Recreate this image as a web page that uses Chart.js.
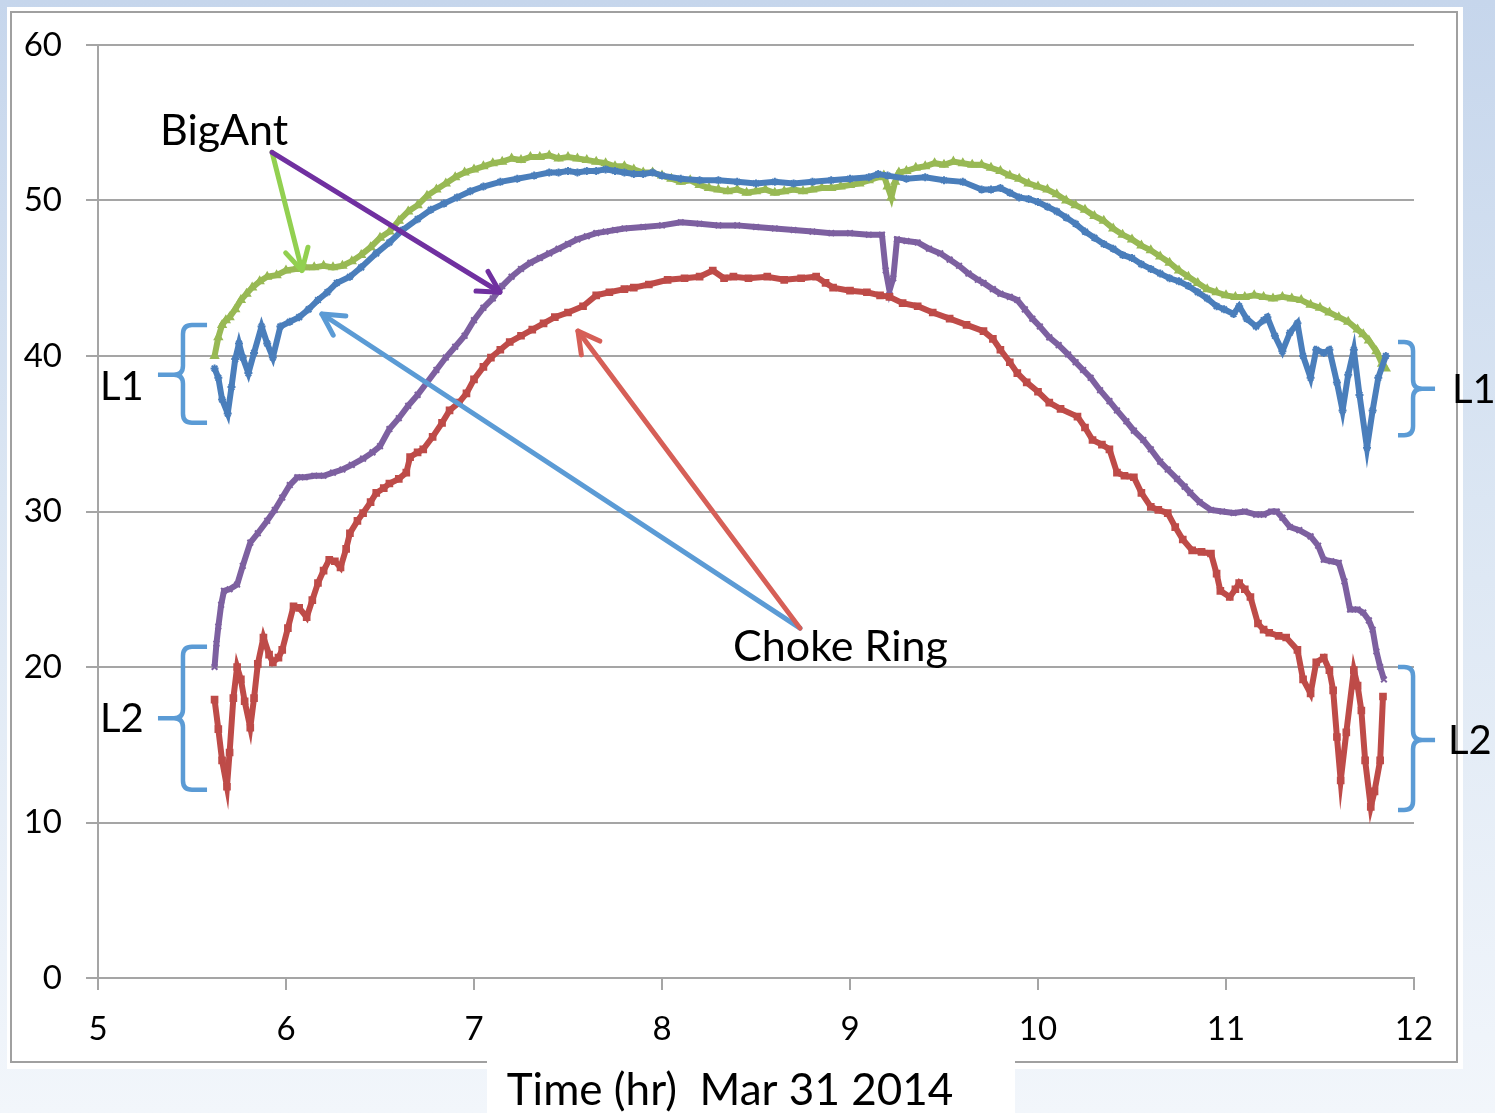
<!DOCTYPE html>
<html>
<head>
<meta charset="utf-8">
<script src="https://cdn.jsdelivr.net/npm/chart.js@4.4.1/dist/chart.umd.min.js"></script>
<style>
  html, body { margin: 0; padding: 0; background: #dde7f4; }
  canvas { display: block; }
</style>
</head>
<body>
<canvas id="snrChart" width="1495" height="1113"></canvas>
<script>
// SNR (dB-Hz) per antenna and frequency, Mar 31 2014
var xTicks = [5, 6, 7, 8, 9, 10, 11, 12];
var yTicks = [0, 10, 20, 30, 40, 50, 60];

var hoursChokeL1 = [5.62,5.64,5.66,5.69,5.71,5.73,5.75,5.77,5.80,5.83,5.87,5.90,5.93,5.97,6.02,6.07,6.12,6.17,6.22,6.27,6.34,6.40,6.48,6.55,6.62,6.70,6.77,6.84,6.91,6.98,7.05,7.14,7.23,7.32,7.40,7.45,7.50,7.55,7.60,7.65,7.70,7.75,7.80,7.85,7.90,7.95,8.00,8.10,8.20,8.30,8.40,8.50,8.60,8.70,8.80,8.90,9.00,9.10,9.15,9.20,9.30,9.40,9.50,9.60,9.70,9.75,9.80,9.85,9.90,9.95,10.00,10.05,10.10,10.15,10.20,10.25,10.30,10.35,10.40,10.45,10.50,10.55,10.60,10.65,10.70,10.75,10.80,10.85,10.90,10.95,10.99,11.04,11.07,11.11,11.16,11.20,11.22,11.26,11.30,11.34,11.38,11.41,11.45,11.48,11.52,11.55,11.59,11.62,11.65,11.68,11.71,11.75,11.78,11.81,11.85];
var chokeL1 = [39.2,38.6,37.2,36.3,38.0,39.8,40.8,39.9,38.9,40.2,41.9,40.8,39.9,41.9,42.2,42.5,43.0,43.6,44.1,44.7,45.1,45.7,46.6,47.3,48.1,48.8,49.4,49.8,50.2,50.6,50.9,51.2,51.4,51.6,51.8,51.8,51.9,51.8,51.9,51.9,52.0,51.9,51.8,51.7,51.7,51.8,51.6,51.4,51.3,51.3,51.2,51.1,51.2,51.1,51.2,51.3,51.4,51.5,51.7,51.6,51.4,51.5,51.3,51.2,50.7,50.7,50.8,50.5,50.2,50.1,49.9,49.6,49.3,48.9,48.5,48.0,47.6,47.2,46.9,46.5,46.3,45.9,45.6,45.3,45.0,44.8,44.5,44.1,43.7,43.2,43.0,42.7,43.2,42.4,41.9,42.3,42.5,41.3,40.3,41.5,42.1,40.0,38.6,40.4,40.2,40.4,38.3,36.5,38.8,40.4,37.5,34.1,36.5,38.6,40.0];

var hoursChokeL2 = [5.62,5.64,5.66,5.686,5.70,5.72,5.74,5.76,5.78,5.81,5.83,5.85,5.88,5.91,5.93,5.96,5.98,6.01,6.04,6.07,6.11,6.14,6.17,6.20,6.23,6.26,6.29,6.32,6.34,6.38,6.41,6.45,6.48,6.52,6.55,6.60,6.64,6.66,6.70,6.73,6.78,6.83,6.87,6.92,6.96,7.00,7.05,7.09,7.14,7.19,7.25,7.31,7.37,7.43,7.50,7.58,7.65,7.72,7.80,7.85,7.93,8.03,8.12,8.20,8.27,8.33,8.38,8.46,8.56,8.65,8.74,8.82,8.87,8.91,9.00,9.09,9.16,9.21,9.28,9.36,9.44,9.53,9.62,9.71,9.76,9.80,9.85,9.89,9.94,10.00,10.06,10.12,10.21,10.25,10.29,10.34,10.38,10.42,10.46,10.51,10.55,10.60,10.64,10.69,10.73,10.77,10.82,10.87,10.92,10.95,10.97,11.02,11.05,11.07,11.10,11.13,11.17,11.20,11.23,11.28,11.32,11.38,11.41,11.45,11.48,11.52,11.55,11.57,11.59,11.61,11.64,11.68,11.70,11.72,11.74,11.77,11.79,11.82,11.835];
var chokeL2 = [17.9,16.0,14.0,12.3,14.5,18.0,20.0,19.2,17.8,16.1,18.0,20.2,21.9,20.8,20.3,20.6,21.1,22.5,23.9,23.8,23.2,24.3,25.4,26.2,26.9,26.8,26.4,27.6,28.6,29.4,29.9,30.6,31.2,31.5,31.8,32.1,32.5,33.5,33.8,34.0,34.8,35.7,36.5,37.0,37.6,38.5,39.3,39.9,40.4,40.9,41.3,41.7,42.1,42.5,42.8,43.2,43.9,44.1,44.3,44.4,44.6,44.9,45.0,45.1,45.5,45.0,45.1,45.0,45.1,44.9,45.0,45.1,44.7,44.4,44.2,44.1,43.9,43.8,43.4,43.2,42.8,42.4,42.0,41.6,41.1,40.4,39.6,38.9,38.3,37.7,37.0,36.6,36.1,35.4,34.6,34.3,34.0,32.5,32.3,32.2,31.2,30.3,30.1,29.9,29.0,28.2,27.5,27.4,27.3,26.0,24.9,24.5,25.0,25.4,25.0,24.5,22.8,22.4,22.2,22.0,21.9,21.1,19.2,18.3,20.3,20.6,19.8,18.5,15.5,12.7,15.8,19.8,18.8,17.2,14.0,11.0,12.0,14.0,18.1];

var hoursBigAntL1 = [5.62,5.64,5.66,5.68,5.70,5.73,5.76,5.79,5.82,5.86,5.90,5.95,6.00,6.05,6.10,6.15,6.20,6.25,6.30,6.35,6.40,6.45,6.50,6.55,6.60,6.65,6.70,6.75,6.80,6.85,6.90,6.95,7.00,7.05,7.10,7.15,7.20,7.25,7.30,7.35,7.40,7.45,7.50,7.55,7.60,7.65,7.70,7.75,7.80,7.85,7.90,7.95,8.00,8.05,8.10,8.15,8.20,8.25,8.30,8.35,8.40,8.45,8.50,8.55,8.60,8.65,8.70,8.75,8.80,8.85,8.90,8.95,9.00,9.05,9.10,9.15,9.18,9.20,9.22,9.24,9.26,9.30,9.35,9.40,9.45,9.50,9.55,9.60,9.65,9.70,9.75,9.80,9.85,9.90,9.95,10.00,10.05,10.10,10.15,10.20,10.25,10.30,10.35,10.40,10.45,10.50,10.55,10.60,10.65,10.70,10.75,10.80,10.85,10.90,10.95,11.00,11.05,11.10,11.15,11.20,11.25,11.30,11.35,11.40,11.45,11.50,11.55,11.60,11.65,11.70,11.73,11.76,11.80,11.83,11.85];
var bigAntL1 = [40.0,41.2,42.0,42.3,42.5,43.0,43.6,44.0,44.4,44.8,45.1,45.2,45.5,45.6,45.7,45.7,45.8,45.7,45.8,46.1,46.5,47.0,47.6,48.0,48.7,49.3,49.7,50.3,50.7,51.1,51.5,51.8,52.0,52.2,52.4,52.5,52.7,52.6,52.8,52.8,52.9,52.7,52.8,52.7,52.6,52.5,52.4,52.2,52.2,52.0,51.8,51.8,51.6,51.4,51.2,51.3,51.0,50.8,50.7,50.6,50.7,50.5,50.6,50.7,50.5,50.6,50.7,50.6,50.7,50.8,50.8,50.9,51.0,51.1,51.3,51.5,51.6,50.9,50.2,51.2,51.8,51.9,52.1,52.2,52.4,52.3,52.5,52.4,52.3,52.3,52.1,51.9,51.6,51.4,51.1,50.9,50.7,50.4,50.0,49.7,49.4,49.0,48.7,48.2,47.8,47.5,47.1,46.8,46.4,46.0,45.5,45.1,44.7,44.3,44.1,43.9,43.8,43.8,43.9,43.8,43.7,43.8,43.7,43.6,43.3,43.1,42.8,42.5,42.2,41.7,41.4,41.0,40.3,39.5,39.2];

var hoursBigAntL2 = [5.62,5.63,5.64,5.655,5.67,5.70,5.74,5.77,5.81,5.85,5.90,5.94,5.98,6.02,6.06,6.10,6.15,6.20,6.25,6.30,6.35,6.41,6.46,6.50,6.55,6.60,6.65,6.70,6.75,6.80,6.85,6.90,6.95,7.00,7.05,7.10,7.15,7.20,7.25,7.30,7.35,7.40,7.45,7.50,7.55,7.60,7.65,7.70,7.75,7.80,7.90,8.00,8.10,8.20,8.30,8.40,8.50,8.60,8.70,8.80,8.90,9.00,9.10,9.17,9.19,9.21,9.23,9.25,9.30,9.36,9.42,9.48,9.53,9.58,9.63,9.68,9.71,9.76,9.80,9.85,9.89,9.93,9.97,10.01,10.06,10.11,10.16,10.20,10.24,10.28,10.33,10.38,10.42,10.47,10.51,10.56,10.60,10.65,10.69,10.74,10.78,10.81,10.86,10.92,10.98,11.04,11.10,11.16,11.20,11.24,11.27,11.30,11.34,11.39,11.45,11.49,11.52,11.56,11.60,11.63,11.66,11.70,11.73,11.76,11.78,11.80,11.82,11.84];
var bigAntL2 = [20.0,21.5,22.6,24.0,24.9,25.0,25.3,26.5,28.0,28.6,29.4,30.1,30.9,31.7,32.2,32.2,32.3,32.3,32.5,32.7,33.0,33.4,33.8,34.2,35.3,36.0,36.8,37.5,38.3,39.1,39.9,40.6,41.3,42.3,43.1,43.7,44.5,45.1,45.6,46.0,46.3,46.6,46.9,47.2,47.5,47.7,47.9,48.0,48.1,48.2,48.3,48.4,48.6,48.5,48.4,48.4,48.3,48.2,48.1,48.0,47.9,47.9,47.8,47.8,45.5,44.2,45.0,47.5,47.4,47.3,46.9,46.6,46.2,45.8,45.3,44.9,44.7,44.3,44.0,43.8,43.6,43.0,42.4,41.9,41.2,40.7,40.1,39.6,39.1,38.6,37.8,37.1,36.5,35.8,35.2,34.6,34.0,33.2,32.7,32.1,31.6,31.2,30.6,30.1,30.0,29.9,30.0,29.8,29.8,30.0,30.0,29.6,29.0,28.8,28.4,27.8,26.9,26.8,26.7,25.5,23.7,23.7,23.5,23.0,22.4,21.0,20.0,19.2];

// callouts, positioned in axis units
var arrowNotes = [
  { from: [5.926, 53.1], to: [6.085, 45.5], color: '#92d050' },
  { from: [5.926, 53.1], to: [7.138, 44.1], color: '#7030a0' },
  { from: [8.734, 22.5], to: [6.191, 42.7], color: '#5b9bd5' },
  { from: [8.734, 22.5], to: [7.553, 41.6], color: '#d65f57' }
];
var textNotes = [
  { text: 'BigAnt', x: 5.330, y: 53.6 },
  { text: 'Choke Ring', x: 8.378, y: 20.4 },
  { text: 'L1', x: 5.011, y: 37.2 },
  { text: 'L2', x: 5.011, y: 15.8 },
  { text: 'L1', x: 12.202, y: 37.0 },
  { text: 'L2', x: 12.181, y: 14.4 }
];
// brace: spine x, hook end x, tip x, top / middle / bottom
var braceNotes = [
  { spine: 5.452, hook: 5.580, tip: 5.319, top: 42.0, mid: 38.8, bottom: 35.7 },
  { spine: 5.452, hook: 5.580, tip: 5.319, top: 21.3, mid: 16.7, bottom: 12.1 },
  { spine: 11.995, hook: 11.915, tip: 12.112, top: 40.9, mid: 37.9, bottom: 34.9 },
  { spine: 11.995, hook: 11.915, tip: 12.112, top: 20.0, mid: 15.3, bottom: 10.8 }
];

var FONT = 'Lato, "Open Sans", sans-serif';
var GRID = '#a5a5a5';

function toPoints(hours, values) {
  return hours.map(function (h, i) { return { x: h, y: values[i] }; });
}

function series(label, hours, values, color, style) {
  return {
    label: label,
    data: toPoints(hours, values),
    borderColor: color,
    backgroundColor: color,
    borderWidth: 6,
    pointStyle: style,
    pointRadius: 4,
    pointBorderWidth: 2,
    pointBorderColor: color,
    tension: 0
  };
}

var slideFrame = {
  id: 'slideFrame',
  beforeDraw: function (chart) {
    var ctx = chart.ctx, w = chart.width, h = chart.height;
    ctx.save();
    var g = ctx.createLinearGradient(0, 0, 0, h);
    g.addColorStop(0, '#c6d6ec');
    g.addColorStop(0.45, '#dbe6f3');
    g.addColorStop(1, '#f2f6fb');
    ctx.fillStyle = g;
    ctx.fillRect(0, 0, w, h);
    ctx.fillStyle = '#ffffff';
    ctx.fillRect(7, 7, 1456, 1062);
    ctx.strokeStyle = '#a0a0a0';
    ctx.lineWidth = 2;
    ctx.strokeRect(11, 12, 1446, 1050);
    // box behind the axis title
    ctx.fillStyle = '#ffffff';
    ctx.fillRect(487, 1061, 528, 52);
    ctx.fillStyle = '#000000';
    ctx.font = '44px ' + FONT;
    ctx.textAlign = 'center';
    ctx.textBaseline = 'alphabetic';
    ctx.fillText('Time (hr)  Mar 31 2014', 730, 1105);
    ctx.restore();
  }
};

function drawArrow(ctx, x1, y1, x2, y2, color) {
  var ang = Math.atan2(y2 - y1, x2 - x1), len = 24, spread = 0.5;
  ctx.strokeStyle = color;
  ctx.lineWidth = 5;
  ctx.lineCap = 'round';
  ctx.lineJoin = 'round';
  ctx.beginPath();
  ctx.moveTo(x1, y1);
  ctx.lineTo(x2, y2);
  ctx.stroke();
  ctx.beginPath();
  ctx.moveTo(x2 - len * Math.cos(ang - spread), y2 - len * Math.sin(ang - spread));
  ctx.lineTo(x2, y2);
  ctx.lineTo(x2 - len * Math.cos(ang + spread), y2 - len * Math.sin(ang + spread));
  ctx.stroke();
}

var callouts = {
  id: 'callouts',
  afterDraw: function (chart) {
    var ctx = chart.ctx, sx = chart.scales.x, sy = chart.scales.y;
    var px = function (v) { return sx.getPixelForValue(v); };
    var py = function (v) { return sy.getPixelForValue(v); };
    ctx.save();

    braceNotes.forEach(function (b) {
      var x = px(b.spine), hx = px(b.hook), tx = px(b.tip);
      var t = py(b.top), m = py(b.mid), bt = py(b.bottom);
      var r = 9, dir = hx > x ? 1 : -1;
      ctx.strokeStyle = '#5b9bd5';
      ctx.lineWidth = 4.5;
      ctx.lineCap = 'butt';
      ctx.beginPath();
      ctx.moveTo(hx, t);
      ctx.lineTo(x + dir * r, t);
      ctx.quadraticCurveTo(x, t, x, t + r);
      ctx.lineTo(x, m - r);
      ctx.quadraticCurveTo(x, m, x - dir * r, m);
      ctx.lineTo(tx, m);
      ctx.moveTo(x - dir * r, m);
      ctx.quadraticCurveTo(x, m, x, m + r);
      ctx.lineTo(x, bt - r);
      ctx.quadraticCurveTo(x, bt, x + dir * r, bt);
      ctx.lineTo(hx, bt);
      ctx.stroke();
    });

    arrowNotes.forEach(function (a) {
      drawArrow(ctx, px(a.from[0]), py(a.from[1]), px(a.to[0]), py(a.to[1]), a.color);
    });

    ctx.fillStyle = '#000000';
    ctx.textAlign = 'left';
    ctx.textBaseline = 'alphabetic';
    textNotes.forEach(function (n) {
      ctx.font = (n.text.length > 2 ? '43px ' : '40px ') + FONT;
      ctx.fillText(n.text, px(n.x), py(n.y));
    });
    ctx.restore();
  }
};

var snrCanvas = document.getElementById('snrChart');
var snrChart = new Chart(snrCanvas, {
  type: 'line',
  data: {
    datasets: [
      series('Choke Ring L1', hoursChokeL1, chokeL1, '#4a7ebb', 'star'),
      series('Choke Ring L2', hoursChokeL2, chokeL2, '#be4b48', 'rect'),
      series('BigAnt L1', hoursBigAntL1, bigAntL1, '#98b954', 'triangle'),
      series('BigAnt L2', hoursBigAntL2, bigAntL2, '#7d60a0', 'crossRot')
    ]
  },
  options: {
    responsive: false,
    animation: false,
    devicePixelRatio: 1,
    layout: { padding: { left: 0, right: 81, top: 45, bottom: 0 } },
    plugins: { legend: { display: false }, tooltip: { enabled: false } },
    scales: {
      x: {
        type: 'linear',
        min: xTicks[0],
        max: xTicks[xTicks.length - 1],
        afterBuildTicks: function (s) { s.ticks = xTicks.map(function (v) { return { value: v }; }); },
        afterFit: function (s) { s.height = 135; },
        ticks: { font: { family: FONT, size: 33 }, color: '#000000', padding: 20, maxRotation: 0 },
        grid: { drawOnChartArea: false, drawTicks: true, tickLength: 12, color: GRID, lineWidth: 2 },
        border: { display: true, color: GRID, width: 2 }
      },
      y: {
        min: yTicks[0],
        max: yTicks[yTicks.length - 1],
        afterBuildTicks: function (s) { s.ticks = yTicks.map(function (v) { return { value: v }; }); },
        afterFit: function (s) { s.width = 98; },
        ticks: { font: { family: FONT, size: 33 }, color: '#000000', padding: 24 },
        grid: { color: GRID, lineWidth: 2, tickLength: 12 },
        border: { display: true, color: GRID, width: 2 }
      }
    }
  },
  plugins: [slideFrame, callouts]
});
</script>
</body>
</html>
